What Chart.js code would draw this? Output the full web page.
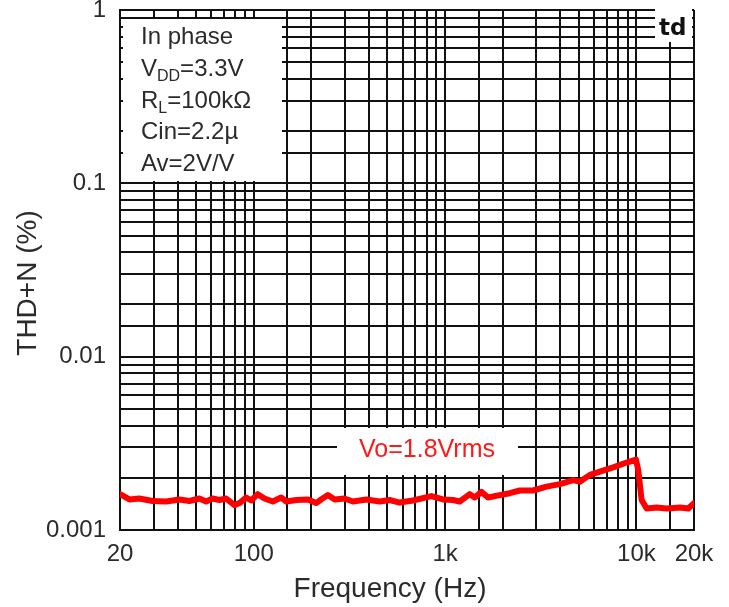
<!DOCTYPE html>
<html lang="en">
<head>
  <meta charset="UTF-8" />
  <title>THD+N vs Frequency</title>
  <script src="https://cdn.jsdelivr.net/npm/chart.js"></script>
  <style>
    html, body { margin: 0; padding: 0; background: #fff; }
    canvas { display: block; }
  </style>
</head>
<body>
  <canvas id="thdChart" width="729" height="607"></canvas>

  <script>
    // measured curve, Vo = 1.8 Vrms
    const freqHz = [20, 22.4, 25.2, 29.6, 34.8, 40.9, 46.1, 52, 56.4, 61, 66.2, 71.7, 79.3, 84.2, 91.3, 97,
      105, 113.8, 125.8, 139, 148, 167, 192, 212, 225, 244, 265, 298, 330, 388, 455, 513, 579, 679, 848, 975,
      1100, 1193, 1346, 1429, 1549, 1677, 1931, 2178, 2458, 2884, 3390, 3980, 4672, 5064, 5712, 6444, 7564,
      8890, 9944, 10220, 10650, 11310, 12760, 14390, 16900, 18670, 20000];
    const thdPct = [0.00161, 0.00150, 0.00152, 0.00147, 0.00146, 0.00150, 0.00147, 0.00152, 0.00146, 0.00152,
      0.00149, 0.00152, 0.00139, 0.00143, 0.00154, 0.00148, 0.00161, 0.00152, 0.00146, 0.00154, 0.00146,
      0.00149, 0.00150, 0.00143, 0.00150, 0.00159, 0.00150, 0.00152, 0.00146, 0.00150, 0.00146, 0.00149,
      0.00144, 0.00148, 0.00157, 0.00150, 0.00149, 0.00146, 0.00161, 0.00154, 0.00166, 0.00154, 0.00159,
      0.00163, 0.00169, 0.00169, 0.00178, 0.00184, 0.00194, 0.00190, 0.00208, 0.00217, 0.00230, 0.00245,
      0.00255, 0.00222, 0.00149, 0.00133, 0.00135, 0.00133, 0.00135, 0.00133, 0.00143];

    // labelled ticks; the rest only get grid lines
    const xTickValues = [20, 100, 1000, 10000, 20000];
    const xTickLabels = ['20', '100', '1k', '10k', '20k'];
    const yTickValues = [1, 0.1, 0.01, 0.001];
    const yTickLabels = ['1', '0.1', '0.01', '0.001'];

    const notes = ['In phase', 'V|DD|=3.3V', 'R|L|=100kΩ', 'Cin=2.2µ', 'Av=2V/V'];
    const curveLabel = 'Vo=1.8Vrms';

    const TEXT = '#2b2b2b';
    const FONT = '"Liberation Sans", Arial, sans-serif';

    function pickLabel(values, labels, v) {
      for (let i = 0; i < values.length; i++) {
        if (Math.abs(Math.log10(values[i]) - Math.log10(v)) < 1e-6) return labels[i];
      }
      return '';
    }

    // text with "|sub|" segments drawn as subscripts
    function drawSubText(ctx, str, x, y, size) {
      const parts = str.split('|');
      let cx = x;
      parts.forEach((p, i) => {
        const sub = i % 2 === 1;
        ctx.font = (sub ? Math.round(size * 0.68) : size) + 'px ' + FONT;
        ctx.fillText(p, cx, sub ? y + 5 : y);
        cx += ctx.measureText(p).width;
      });
    }

    const annotations = {
      id: 'annotations',
      beforeDatasetsDraw(chart) {
        const { ctx, chartArea: a } = chart;
        ctx.save();
        ctx.fillStyle = '#fff';
        // conditions box, curve label box, corner tag box
        ctx.fillRect(a.left + 3, a.top + 9, 159, 162);
        ctx.fillRect(a.left + 217, a.top + 418, 181, 47);
        ctx.fillRect(a.right - 39, a.top - 3, 37, 35);

        ctx.fillStyle = TEXT;
        ctx.textAlign = 'left';
        ctx.textBaseline = 'alphabetic';
        notes.forEach((n, i) => drawSubText(ctx, n, a.left + 21, a.top + 34 + i * 31.8, 24));

        ctx.fillStyle = '#ff1a1a';
        ctx.font = '25px ' + FONT;
        ctx.textAlign = 'center';
        ctx.textBaseline = 'middle';
        ctx.fillText(curveLabel, a.left + 307, a.top + 440);

        ctx.fillStyle = '#111';
        ctx.font = 'bold 23px "DejaVu Sans", sans-serif';
        ctx.textAlign = 'left';
        ctx.fillText('td', a.right - 35, a.top + 19);

        // axis titles
        ctx.fillStyle = TEXT;
        ctx.font = '28px ' + FONT;
        ctx.textAlign = 'center';
        ctx.fillText('Frequency (Hz)', 390, 589);
        ctx.translate(28, 283);
        ctx.rotate(-Math.PI / 2);
        ctx.fillText('THD+N (%)', 0, 0);
        ctx.restore();
      }
    };

    const ctx = document.getElementById('thdChart').getContext('2d');
    new Chart(ctx, {
      type: 'line',
      data: {
        labels: freqHz,
        datasets: [{
          label: curveLabel,
          data: freqHz.map((f, i) => ({ x: f, y: thdPct[i] })),
          borderColor: '#ff0000',
          borderWidth: 6,
          borderJoinStyle: 'round',
          borderCapStyle: 'round',
          pointRadius: 0,
          tension: 0,
          fill: false
        }]
      },
      options: {
        responsive: false,
        animation: false,
        layout: { padding: { left: 0, top: 10, right: 35, bottom: 0 } },
        plugins: {
          legend: { display: false },
          tooltip: { enabled: false }
        },
        scales: {
          x: {
            type: 'logarithmic',
            min: 20,
            max: 20000,
            afterFit(s) { s.height = 77; s.paddingLeft = 0; s.paddingRight = 0; },
            grid: { color: '#111', lineWidth: 2, drawTicks: false },
            border: { color: '#111', width: 2 },
            ticks: {
              autoSkip: false,
              maxRotation: 0,
              padding: 10,
              color: TEXT,
              font: { family: FONT, size: 24 },
              callback: v => pickLabel(xTickValues, xTickLabels, v)
            }
          },
          y: {
            type: 'logarithmic',
            min: 0.001,
            max: 1,
            afterFit(s) { s.width = 120; s.paddingTop = 0; s.paddingBottom = 0; },
            grid: { color: '#111', lineWidth: 2, drawTicks: false },
            border: { color: '#111', width: 2 },
            ticks: {
              autoSkip: false,
              padding: 14,
              color: TEXT,
              font: { family: FONT, size: 24 },
              callback: v => pickLabel(yTickValues, yTickLabels, v)
            }
          }
        }
      },
      plugins: [annotations]
    });
  </script>
</body>
</html>
